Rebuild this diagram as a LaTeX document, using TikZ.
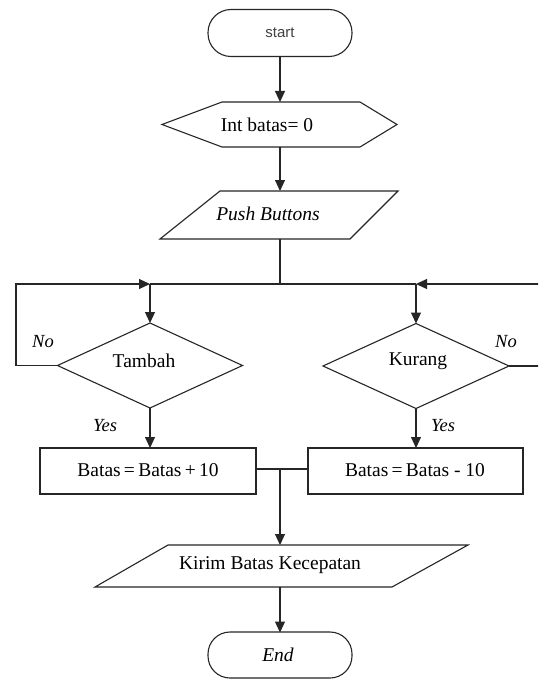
\documentclass[tikz,border=0pt]{standalone}
\usepackage{fontspec}
\setmainfont{Liberation Serif}
\newfontfamily\sansf{Liberation Sans}
\usetikzlibrary{arrows.meta,shapes.geometric,calc}
\begin{document}
\begin{tikzpicture}[x=1pt,y=-1pt,
  ln/.style={draw=black!85,line width=1.1pt},
  arr/.style={ln,-{Triangle[length=11pt,width=10pt]}},
  shp/.style={draw=none,inner sep=0pt,outer sep=0pt},
  txt/.style={inner sep=0pt,font=\fontsize{19.5}{22}\selectfont},
  lbl/.style={inner sep=0pt,font=\fontsize{18.5}{21}\selectfont\itshape}]
\useasboundingbox (0,0) rectangle (538,679);
\clip (0,0) rectangle (538,679);
\fill[white] (0,0) rectangle (538,679);
% start
\node[shp,minimum width=144pt,minimum height=47pt] (st) at (280,33) {};
\draw[ln,rounded corners=23pt] (208,9.5) rectangle (352,56.5);
\node[inner sep=0pt,font=\sansf\fontsize{15}{17}\selectfont,text=black!75] (stt) at (280,33) {start};
% hexagon
\node[shp,minimum width=235pt,minimum height=45pt] (hx) at (280,124.5) {};
\draw[ln] (162,124.5) -- (222,102) -- (360,102) -- (397,124.5) -- (360,147) -- (222,147) -- cycle;
\node[txt] (hxt) at (267,124.5) {Int batas= 0};
% push buttons
\node[shp,minimum width=238pt,minimum height=48pt] (pb) at (280,215) {};
\draw[ln] (220,191) -- (398,191) -- (350,239) -- (160,239) -- cycle;
\node[txt,font=\fontsize{19.5}{22}\selectfont\itshape] (pbt) at (268,214) {Push Buttons};
% junction coordinates
\coordinate (jl) at (150,284);
\coordinate (jr) at (416,284);
\coordinate (jt) at (280,284);
\coordinate (ll) at (16,284);
\coordinate (rr) at (545,284);
% diamonds
\node[shp,diamond,minimum width=185pt,minimum height=85pt,draw=black!85,line width=1.1pt] (tam) at (150,365.5) {};
\node[txt] (tamt) at (144,361) {Tambah};
\node[shp,diamond,minimum width=186pt,minimum height=85pt,draw=black!85,line width=1.1pt] (kur) at (416,366) {};
\node[txt] (kurt) at (418,361) {Kurang};
% boxes
\node[shp,draw=black!85,line width=1.1pt,minimum width=216pt,minimum height=46pt] (b1) at (148,471) {};
\node[txt] (b1t) at (148,470) {Batas\,=\,Batas\,+\,10};
\node[shp,draw=black!85,line width=1.1pt,minimum width=215pt,minimum height=46pt] (b2) at (415.5,471) {};
\node[txt] (b2t) at (415,470) {Batas\,=\,Batas - 10};
\coordinate (jb) at (280,469);
% kirim
\node[shp,minimum width=373pt,minimum height=42pt] (kir) at (281,566) {};
\draw[ln] (168,545) -- (468,545) -- (392,587) -- (95,587) -- cycle;
\node[txt] (kirt) at (270,565) {Kirim Batas Kecepatan};
% end
\node[shp,minimum width=144pt,minimum height=45pt] (fin) at (280,655) {};
\draw[ln,rounded corners=22pt] (208,632) rectangle (352,678);
\node[txt,font=\fontsize{19.5}{22}\selectfont\itshape] (fint) at (278,655) {End};
% labels
\node[lbl] (no1) at (43,342) {No};
\node[lbl] (no2) at (506,342) {No};
\node[lbl] (yes1) at (105,426) {Yes};
\node[lbl] (yes2) at (443,426) {Yes};
% connectors
\draw[arr] (st.south) -- (st.south |- hx.north);
\draw[arr] (hx.south) -- (hx.south |- pb.north);
\draw[ln] (pb.south) -- (jt);
\draw[ln] (jl) -- (jr);
\draw[arr] (tam.west) -| (ll) -- (jl);
\draw[arr] (kur.east) -| (rr) -- (jr);
\draw[arr] (jl) -- (tam.north);
\draw[arr] (jr) -- (kur.north);
\draw[arr] (tam.south) -- (tam.south |- b1.north);
\draw[arr] (kur.south) -- (kur.south |- b2.north);
\draw[ln] (b1.east |- jb) -- (b2.west |- jb);
\draw[arr] (jb) -- (jb |- kir.north);
\draw[arr] (kir.south -| fin.north) -- (fin.north);
\end{tikzpicture}
\end{document}
